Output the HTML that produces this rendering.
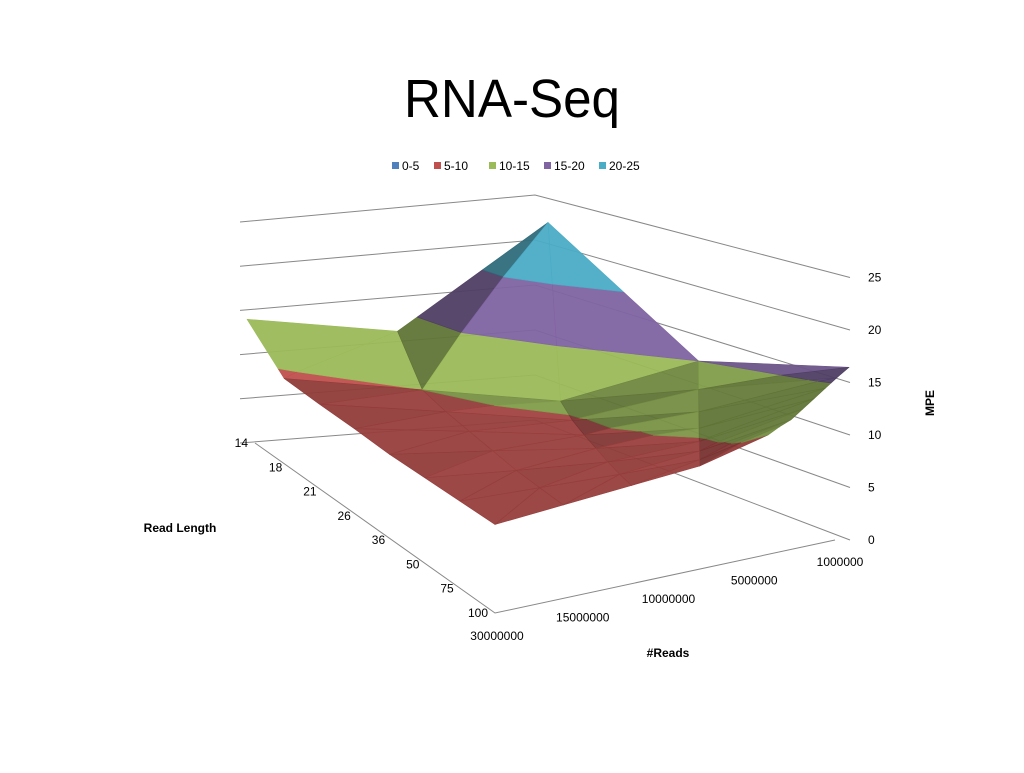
<!DOCTYPE html>
<html><head><meta charset="utf-8"><style>
body{margin:0;background:#fff;font-family:"Liberation Sans",sans-serif}
svg text{font-family:"Liberation Sans",sans-serif}
</style></head><body>
<svg width="1024" height="768">
<text x="512" y="117" text-anchor="middle" font-size="54" textLength="216" lengthAdjust="spacingAndGlyphs">RNA-Seq</text>
<g id="legend"></g>
<g id="grid"></g>
<g id="surface"></g>
<g id="labels"></g>
<text x="180" y="532" text-anchor="middle" font-size="12" font-weight="bold">Read Length</text>
<text x="668" y="657" text-anchor="middle" font-size="12" font-weight="bold">#Reads</text>
<text transform="translate(934,403) rotate(-90)" text-anchor="middle" font-size="12" font-weight="bold">MPE</text>
</svg>
<script>
const readLengths=["14","18","21","26","36","50","75","100"];
const readCounts=["1000000","5000000","10000000","15000000","30000000"];
const zTicks=[0,5,10,15,20,25];
const bandLabels=["0-5","5-10","10-15","15-20","20-25"];
const bandColors=["#4f81bd","#c0504d","#9bbb59","#8064a2","#4bacc6"];
const row14=[16.5,15,25,13.5,12.5];
const row18=[15.5,13,10.5,10,9.5];
const row21=[14.5,11.5,9.8,9.6,9.3];
const row26=[13.5,10.5,9.5,9.4,9.2];
const row36=[12.5,9.8,9.3,9.2,9];
const row50=[11.5,9.4,9.1,9,9];
const row75=[10.8,9.1,9,9,9];
const row100=[10,9,9,9,9];
const mpe=[row14,row18,row21,row26,row36,row50,row75,row100];
const NS="http://www.w3.org/2000/svg";
function mk(t,a,p){const e=document.createElementNS(NS,t);for(const k in a)e.setAttribute(k,a[k]);p.appendChild(e);return e;}
const B=[849,557],L=[247,463],F=[495,628],R=[768,550];
const ZS=11.5;
function rowS(i){return i<=1?0.15*i:0.15+0.85*(i-1)/(readLengths.length-2);}
function proj(i,j,z){const s=rowS(i),t=j/(readCounts.length-1);
 const x=(1-s)*(1-t)*B[0]+(1-s)*t*L[0]+s*t*F[0]+s*(1-t)*R[0];
 const y=(1-s)*(1-t)*B[1]+(1-s)*t*L[1]+s*t*F[1]+s*(1-t)*R[1];
 return [x,y-z*ZS];}
// legend
const lg=document.getElementById('legend');let lx=392;
bandLabels.forEach((b,k)=>{const r=mk('rect',{x:lx,y:162,width:7,height:7,fill:bandColors[k]},lg);

const t=mk('text',{x:lx+10,y:170,'font-size':12},lg);t.textContent=b;

lx+=b.length>3?55:42;});
// grid walls
const g=document.getElementById('grid');
const leftY=z=>443-z*8.84, rightY=z=>540-z*10.5, backY=z=>420-z*9;
zTicks.forEach(z=>{const p=mk('polyline',{points:`240,${leftY(z)} 535,${backY(z)} 850,${rightY(z)}`,fill:'none',stroke:'#888','stroke-width':1},g);

const t=mk('text',{x:868,y:rightY(z)+4,'font-size':12},document.getElementById('labels'));t.textContent=z;
});
const fl=mk('polyline',{points:`255,443 495,613 835,540`,fill:'none',stroke:'#888'},g);

// labels
const lb=document.getElementById('labels');
readLengths.forEach((r,i)=>{const x=255+(495-255)*i/7,y=443+(613-443)*i/7;
const t=mk('text',{x:x-7,y:y+4,'font-size':12,'text-anchor':'end'},lb);t.textContent=r;
});
readCounts.forEach((r,j)=>{const t=j/4,x=840+(497-840)*t,y=566+(640-566)*t;
const e=mk('text',{x:x,y:y,'font-size':12,'text-anchor':'middle'},lb);e.textContent=r;
});
// surface with band clipping and shading
function clip(poly,lo,keepAbove){const out=[];
 for(let k=0;k<poly.length;k++){const a=poly[k],b=poly[(k+1)%poly.length];
  const ina=keepAbove?a[2]>=lo:a[2]<=lo, inb=keepAbove?b[2]>=lo:b[2]<=lo;
  if(ina)out.push(a);
  if(ina!==inb){const t=(lo-a[2])/(b[2]-a[2]);out.push([a[0]+t*(b[0]-a[0]),a[1]+t*(b[1]-a[1]),lo]);}}
 return out;}
function shade(hex,f){const n=parseInt(hex.slice(1),16);
 const c=[(n>>16)&255,(n>>8)&255,n&255].map(v=>Math.max(0,Math.min(255,Math.round(v*f))));
 return 'rgb('+c.join(',')+')';}
function grad(v){const[a,b,c]=v;
 const u=[b[0]-a[0],b[1]-a[1],b[2]-a[2]],w=[c[0]-a[0],c[1]-a[1],c[2]-a[2]];
 const nx=u[1]*w[2]-u[2]*w[1],ny=u[2]*w[0]-u[0]*w[2],nz=u[0]*w[1]-u[1]*w[0];
 return [-nx/nz,-ny/nz];}
const sf=document.getElementById('surface');const tris=[];
for(let i=0;i<readLengths.length-1;i++)for(let j=0;j<readCounts.length-1;j++){
 const p00=[i,j,mpe[i][j]],p01=[i,j+1,mpe[i][j+1]],p11=[i+1,j+1,mpe[i+1][j+1]],p10=[i+1,j,mpe[i+1][j]];
 const d=proj(i+0.5,j+0.5,0)[1];
 tris.push({v:[p00,p01,p11],d,i,j,h:0});tris.push({v:[p00,p11,p10],d,i,j,h:1});}
tris.sort((a,b)=>a.d-b.d);
tris.forEach(tr=>{const[gi,gj]=grad(tr.v);
 let f=0.78-0.12*gi+0.12*gj;f=Math.max(0.62,Math.min(1,f));
 bandColors.forEach((c,k)=>{
 let poly=clip(tr.v,k*5,true);if(poly.length<3)return;poly=clip(poly,(k+1)*5,false);if(poly.length<3)return;
 const pts=poly.map(p=>proj(p[0],p[1],p[2]).join(',')).join(' ');
 const col=shade(c,f);
 const e=mk('polygon',{points:pts,fill:col,'fill-opacity':0.95,stroke:col,'stroke-width':0.6,'stroke-linejoin':'round'},sf);
 
 });});
</script>
</body></html>
